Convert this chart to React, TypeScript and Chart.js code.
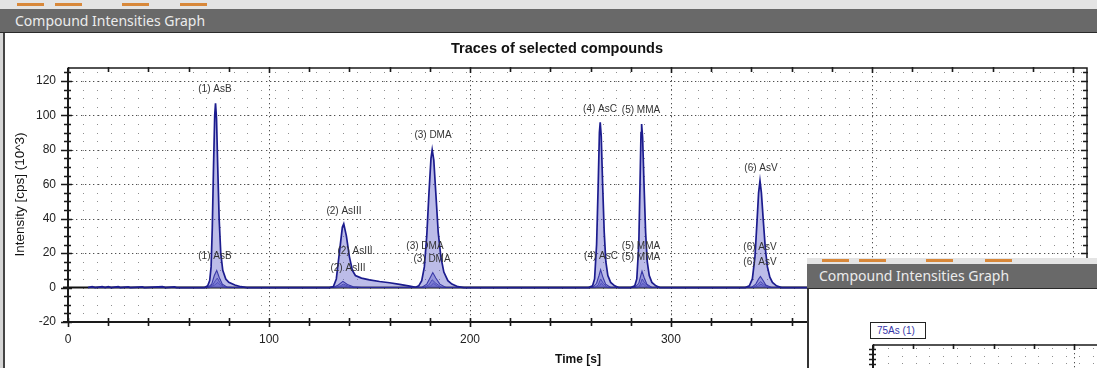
import React, { useEffect, useRef } from 'react';
import { Chart, registerables } from 'chart.js';
Chart.register(...registerables);

const FONT = '"Liberation Sans", Arial, sans-serif';
const UI_FONT = '"Noto Sans", "Open Sans", sans-serif';

// ---- Main trace (largest signal) : time [s] / intensity [10^3 cps]
const mainTimes = [
  10, 12, 13.5, 17, 18.5, 20, 21.5, 25, 26, 30, 31, 37, 38, 47, 48.5, 53, 54, 60,
  68, 69.5, 70.5, 71.2, 71.8, 72.4, 73, 73.4, 73.9, 74.5, 75.2, 76, 77, 78.5, 80, 83, 86, 89,
  130, 132, 133.5, 135, 136.5, 137.2, 138.5, 140, 141.5, 143, 146, 150, 155, 160, 165, 170, 173,
  174.5, 176, 177.3, 178.5, 179.6, 180.6, 181.2, 182, 183, 184.2, 185.5, 187, 189, 191, 194, 197,
  259, 261, 262, 263, 263.8, 264.4, 264.8, 265.3, 266, 266.8, 267.6, 268.6, 270, 272, 274,
  280, 282, 283, 284, 284.6, 285.1, 285.4, 285.9, 286.6, 287.4, 288.2, 289.2, 290.5, 292.5, 294.5,
  337, 339, 340.5, 341.8, 342.8, 343.6, 344.3, 345, 346, 347, 348, 349.2, 350.5, 352.5, 355,
  500,
];
const mainValues = [
  0, 0.6, 0, 0.6, 0, 0.5, 0, 0.5, 0, 0.4, 0, 0.4, 0, 0.5, 0, 0.4, 0, 0,
  0, 1, 4, 12, 35, 70, 100, 107, 98, 70, 40, 20, 10, 5, 3, 1.5, 0.5, 0,
  0, 0.5, 5, 20, 35, 37, 30, 18, 10, 7, 5.5, 4.5, 3.5, 2.8, 1.8, 0.8, 0.2,
  1, 4, 12, 30, 55, 75, 80, 74, 55, 32, 18, 9, 4, 2, 0.5, 0,
  0, 1, 5, 25, 60, 90, 96, 88, 60, 32, 15, 7, 3, 1, 0,
  0, 1, 5, 25, 60, 90, 95, 87, 60, 32, 15, 7, 3, 1, 0,
  0, 1, 5, 18, 38, 55, 62, 55, 38, 22, 12, 6, 3, 1, 0,
  0,
];

// ---- Secondary traces (smaller signals)
const sub1Times = [
  10, 69.5, 71.5, 72.8, 74, 75.2, 76.8, 79, 82,
  132, 134.5, 136.8, 139, 142, 146,
  176, 178.5, 180.3, 181.5, 183, 185, 188,
  261, 263, 264.2, 265, 266, 267.5, 270,
  282, 284, 285, 285.6, 286.6, 288, 290.5,
  340, 342.2, 343.6, 344.5, 345.6, 347.2, 350,
  500,
];
const sub1Values = [
  0, 0, 2, 7, 10, 6, 2, 0.3, 0,
  0, 1.5, 3.6, 1.8, 0.5, 0,
  0, 2, 6, 8.7, 5.5, 2, 0,
  0, 2.5, 7, 10.4, 6.5, 2, 0,
  0, 2.5, 7, 9.5, 6, 2, 0,
  0, 2, 5, 6.5, 4.5, 1.5, 0,
  0,
];
const sub2Times = [
  10, 70, 72, 73.3, 74.3, 75.5, 77.5, 80,
  133, 135.5, 137, 139.5, 142,
  177, 179.5, 181.2, 183, 186,
  262, 263.8, 265, 266.3, 268.5,
  283, 284.6, 285.7, 287, 289.5,
  341, 343, 344.6, 346, 348.5,
  500,
];
const sub2Values = [
  0, 0, 1.5, 4, 5.5, 3, 0.5, 0,
  0, 1, 2, 0.8, 0,
  0, 1.5, 4.5, 2.5, 0,
  0, 1.5, 5, 2.5, 0,
  0, 1.5, 5, 2.5, 0,
  0, 1.5, 3.5, 2, 0,
  0,
];
const sub3Times = [
  10, 70.5, 73, 74.5, 76, 78,
  134, 137.3, 140,
  178, 180.5, 181.8, 183.5, 185.5,
  262.5, 264.5, 265.3, 266.5, 268,
  283.5, 285, 286, 287.2, 289,
  341.5, 343.5, 344.8, 346.2, 348,
  500,
];
const sub3Values = [
  0, 0, 1.5, 3, 1.2, 0,
  0, 1, 0,
  0, 1, 2.5, 1, 0,
  0, 1, 2.5, 1, 0,
  0, 1, 2.5, 1, 0,
  0, 0.8, 2, 0.8, 0,
  0,
];

// ---- Peak annotations
const labelTexts = [
  '(1) AsB', '(2) AsIII', '(3) DMA', '(4) AsC', '(5) MMA', '(6) AsV',
  '(1) AsB', '(2) AsIII', '(2) AsIII', '(3) DMA', '(3) DMA', '(4) AsC', '(5) MMA', '(5) MMA', '(6) AsV', '(6) AsV',
];
const labelTimes = [
  73.1, 137.3, 181.6, 264.7, 285.1, 344.8,
  73.1, 142.8, 139.3, 177.6, 181.1, 265.2, 285.1, 285.1, 344.3, 344.3,
];
const labelValues = [
  115.4, 44.6, 88.7, 103.8, 103.2, 69,
  18, 20.9, 11, 23.8, 16.2, 18, 23.8, 17.4, 23.2, 14.5,
];

// ---- Axes
const xTickValues = [0, 100, 200, 300, 400, 500];
const yTickValues = [-20, 0, 20, 40, 60, 80, 100, 120];
const X_MIN = 0;
const X_MAX = 507;
const Y_MIN = -20;
const Y_MAX = 127.5;

const CHART_TITLE = 'Traces of selected compounds';
const X_TITLE = 'Time [s]';
const Y_TITLE = 'Intensity [cps] (10^3)';
const WINDOW_TITLE = 'Compound Intensities Graph';
const INSET_LEGEND = '75As (1)';

const toXY = (ts: number[], vs: number[]) => ts.map((t, i) => ({ x: t, y: vs[i] }));

type GridCfg = {
  latticeX0: number; latticeXStep: number;
  latticeY0: number; latticeYStep: number;
  majorX: number[]; majorY: number[];
  zero: boolean;
  xTick0: number; xTickStep: number; xMajorStep: number;
  yTick0: number; yTickStep: number; yMajorStep: number;
};

function makeGridPlugin(cfg: GridCfg) {
  return {
    id: 'frameGrid',
    beforeDatasetsDraw(chart: any) {
      const { ctx, chartArea: a, scales } = chart;
      const x = scales.x, y = scales.y;
      ctx.save();
      ctx.fillStyle = '#8e8e8e';
      for (let t = cfg.latticeX0; t <= x.max; t += cfg.latticeXStep) {
        const px = Math.round(x.getPixelForValue(t));
        if (px <= a.left + 2 || px >= a.right - 2) continue;
        for (let v = cfg.latticeY0; v <= y.max; v += cfg.latticeYStep) {
          const py = Math.round(y.getPixelForValue(v));
          if (py <= a.top + 2 || py >= a.bottom - 2) continue;
          ctx.fillRect(px, py, 1, 1);
        }
      }
      ctx.fillStyle = '#505050';
      for (const v of cfg.majorY) {
        const py = Math.round(y.getPixelForValue(v));
        for (let px = a.left + 4; px < a.right - 2; px += 4.3) ctx.fillRect(Math.round(px), py, 1.3, 1);
      }
      for (const t of cfg.majorX) {
        const px = Math.round(x.getPixelForValue(t));
        if (px > a.right) continue;
        for (let py = a.top + 3; py < a.bottom - 2; py += 4.5) ctx.fillRect(px, Math.round(py), 1, 1.3);
      }
      if (cfg.zero) {
        const py = y.getPixelForValue(0);
        ctx.strokeStyle = '#111';
        ctx.lineWidth = 2;
        ctx.beginPath();
        ctx.moveTo(a.left - 5, py);
        ctx.lineTo(a.right, py);
        ctx.stroke();
      }
      ctx.restore();
    },
    afterDatasetsDraw(chart: any) {
      const { ctx, chartArea: a, scales } = chart;
      const x = scales.x, y = scales.y;
      ctx.save();
      ctx.strokeStyle = '#1a1a1a';
      // frame
      ctx.lineWidth = 2;
      ctx.beginPath();
      ctx.moveTo(a.left, a.top);
      ctx.lineTo(a.left, a.bottom);
      ctx.moveTo(a.left - 5, a.bottom);
      ctx.lineTo(a.right, a.bottom);
      ctx.stroke();
      ctx.lineWidth = 1.5;
      ctx.beginPath();
      ctx.moveTo(a.left, a.top);
      ctx.lineTo(a.right, a.top);
      ctx.lineTo(a.right, a.bottom);
      ctx.stroke();
      // ticks
      ctx.lineWidth = 1.6;
      ctx.beginPath();
      for (let v = cfg.yTick0; v <= y.max + 1e-9; v += cfg.yTickStep) {
        const py = Math.round(y.getPixelForValue(v)) + 0.5;
        const major = cfg.yMajorStep > 0 && Math.abs(v / cfg.yMajorStep - Math.round(v / cfg.yMajorStep)) < 1e-6;
        ctx.moveTo(a.left - (major ? 7 : 4), py);
        ctx.lineTo(a.left + (major ? 4 : 3), py);
        ctx.moveTo(a.right - (major ? 6 : 4), py);
        ctx.lineTo(a.right + 1, py);
      }
      for (let t = cfg.xTick0; t <= x.max + 1e-9; t += cfg.xTickStep) {
        const px = Math.round(x.getPixelForValue(t)) + 0.5;
        const major = Math.abs(t / cfg.xMajorStep - Math.round(t / cfg.xMajorStep)) < 1e-6;
        ctx.moveTo(px, a.bottom - 4);
        ctx.lineTo(px, a.bottom + (major ? 5 : 4));
        ctx.moveTo(px, a.top - 1);
        ctx.lineTo(px, a.top + (major ? 5 : 4));
      }
      ctx.stroke();
      ctx.restore();
    },
  };
}

const labelPlugin = {
  id: 'peakLabels',
  afterDatasetsDraw(chart: any) {
    const { ctx, scales } = chart;
    ctx.save();
    ctx.font = `10px ${FONT}`;
    ctx.fillStyle = '#333';
    ctx.textAlign = 'center';
    ctx.textBaseline = 'middle';
    labelTexts.forEach((txt, i) => {
      ctx.fillText(txt, scales.x.getPixelForValue(labelTimes[i]), scales.y.getPixelForValue(labelValues[i]));
    });
    ctx.restore();
  },
  afterDraw(chart: any) {
    const { ctx } = chart;
    ctx.save();
    ctx.fillStyle = '#111';
    ctx.textAlign = 'center';
    ctx.textBaseline = 'middle';
    ctx.font = `bold 14.5px ${FONT}`;
    ctx.fillText(CHART_TITLE, 551, 16);
    ctx.font = `bold 12px ${FONT}`;
    ctx.fillText(X_TITLE, 572, 327);
    ctx.translate(14, 161.5);
    ctx.rotate(-Math.PI / 2);
    ctx.font = `13.5px ${FONT}`;
    ctx.fillText(Y_TITLE, 0, 0);
    ctx.restore();
  },
};

const LINE = '#1c1c8e';
const FILL = 'rgba(95,95,200,0.42)';

export default function App() {
  const mainRef = useRef<HTMLCanvasElement>(null);
  const insetRef = useRef<HTMLCanvasElement>(null);

  useEffect(() => {
    document.body.style.margin = '0';
    const tickFont = { family: FONT, size: 12 };
    const main = new Chart(mainRef.current as HTMLCanvasElement, {
      type: 'line',
      data: {
        datasets: [
          { data: toXY(mainTimes, mainValues), borderColor: LINE, borderWidth: 1.7, backgroundColor: FILL, fill: 'origin' },
          { data: toXY(sub1Times, sub1Values), borderColor: LINE, borderWidth: 1.1, backgroundColor: FILL, fill: 'origin' },
          { data: toXY(sub2Times, sub2Values), borderColor: LINE, borderWidth: 1, backgroundColor: FILL, fill: 'origin' },
          { data: toXY(sub3Times, sub3Values), borderColor: LINE, borderWidth: 1, backgroundColor: FILL, fill: 'origin' },
        ],
      },
      options: {
        animation: false,
        responsive: false,
        maintainAspectRatio: false,
        parsing: false as any,
        layout: { padding: { top: 35, right: 10, left: 0, bottom: 0 } },
        elements: { point: { radius: 0 }, line: { tension: 0 } },
        plugins: { legend: { display: false }, tooltip: { enabled: false }, title: { display: false } },
        scales: {
          x: {
            type: 'linear', min: X_MIN, max: X_MAX,
            afterFit: (s: any) => { s.height = 46; },
            afterBuildTicks: (s: any) => { s.ticks = xTickValues.map((v) => ({ value: v })); },
            grid: { display: false, drawTicks: false },
            border: { display: false },
            ticks: { padding: 10, color: '#222', font: tickFont, maxRotation: 0, autoSkip: false },
          },
          y: {
            type: 'linear', min: Y_MIN, max: Y_MAX,
            afterFit: (s: any) => { s.width = 62; },
            afterBuildTicks: (s: any) => { s.ticks = yTickValues.map((v) => ({ value: v })); },
            grid: { display: false, drawTicks: false },
            border: { display: false },
            ticks: { padding: 12, color: '#222', font: tickFont, autoSkip: false },
          },
        },
      } as any,
      plugins: [
        makeGridPlugin({
          latticeX0: 0.8, latticeXStep: 6.8, latticeY0: -20, latticeYStep: 5,
          majorX: [100, 200, 300, 400, 500], majorY: [20, 40, 60, 80, 100, 120], zero: true,
          xTick0: 0, xTickStep: 20, xMajorStep: 100,
          yTick0: -20, yTickStep: 5, yMajorStep: 20,
        }),
        labelPlugin,
      ],
    });

    const inset = new Chart(insetRef.current as HTMLCanvasElement, {
      type: 'line',
      data: { datasets: [] },
      options: {
        animation: false,
        responsive: false,
        maintainAspectRatio: false,
        layout: { padding: { top: 56, right: 0, left: 0, bottom: 0 } },
        plugins: { legend: { display: false }, tooltip: { enabled: false } },
        scales: {
          x: {
            type: 'linear', min: 0, max: 119,
            afterFit: (s: any) => { s.height = 0; },
            grid: { display: false, drawTicks: false }, border: { display: false }, ticks: { display: false },
          },
          y: {
            type: 'linear', min: 0, max: 12.8,
            afterFit: (s: any) => { s.width = 61; },
            grid: { display: false, drawTicks: false }, border: { display: false }, ticks: { display: false },
          },
        },
      } as any,
      plugins: [
        makeGridPlugin({
          latticeX0: 0.8, latticeXStep: 6.8, latticeY0: 0.2, latticeYStep: 1.5,
          majorX: [100], majorY: [], zero: false,
          xTick0: 0, xTickStep: 20, xMajorStep: 100,
          yTick0: 0, yTickStep: 1, yMajorStep: 0,
        }),
      ],
    });

    return () => { main.destroy(); inset.destroy(); };
  }, []);

  const orange = (left: number, top: number) => (
    <div key={left} style={{ position: 'absolute', left, top, width: 27, height: 3, background: '#d8883a' }} />
  );

  return (
    <div style={{ position: 'fixed', left: 0, top: 0, width: 1097, height: 368, overflow: 'hidden', background: '#fff' }}>
      {/* main window chrome */}
      <div style={{ position: 'absolute', left: 0, top: 0, width: 1097, height: 9, background: '#e4e4e4' }} />
      {[17, 55, 122, 180].map((l) => orange(l, 3))}
      <div style={{ position: 'absolute', left: 0, top: 9, width: 1097, height: 23, background: '#696969', borderBottom: '1.5px solid #2a2a2a' }}>
        <span style={{ position: 'absolute', left: 15, top: 1, fontFamily: UI_FONT, fontSize: 14, color: '#ececec', lineHeight: '21px' }}>{WINDOW_TITLE}</span>
      </div>
      <div style={{ position: 'absolute', left: 0, top: 33, width: 3, height: 335, background: '#d6d6d6' }} />
      <div style={{ position: 'absolute', left: 3, top: 33, width: 2, height: 335, background: '#444' }} />
      <canvas ref={mainRef} width={1091} height={335} style={{ position: 'absolute', left: 6, top: 33, width: 1091, height: 335 }} />

      {/* overlapping second window */}
      <div style={{ position: 'absolute', left: 807, top: 258, width: 290, height: 110, overflow: 'hidden', background: '#fff' }}>
        <div style={{ position: 'absolute', left: 0, top: 0, width: 290, height: 6, background: '#e4e4e4' }} />
        {[15, 52, 119, 178].map((l) => orange(l, 1))}
        <div style={{ position: 'absolute', left: 0, top: 6, width: 290, height: 24, background: '#696969', borderBottom: '1.5px solid #2a2a2a' }}>
          <span style={{ position: 'absolute', left: 12, top: 1, fontFamily: UI_FONT, fontSize: 14, color: '#ececec', lineHeight: '22px' }}>{WINDOW_TITLE}</span>
        </div>
        <div style={{ position: 'absolute', left: 0, top: 31, width: 2, height: 80, background: '#333' }} />
        <canvas ref={insetRef} width={300} height={120} style={{ position: 'absolute', left: 5, top: 31, width: 300, height: 120 }} />
        <div style={{ position: 'absolute', left: 63, top: 64, width: 54, height: 15, border: '1.5px solid #222', background: '#fff', boxSizing: 'content-box' }}>
          <span style={{ position: 'absolute', left: 6, top: 0, fontFamily: FONT, fontSize: 10, color: '#3636a8', lineHeight: '15px' }}>{INSET_LEGEND}</span>
        </div>
      </div>
    </div>
  );
}
